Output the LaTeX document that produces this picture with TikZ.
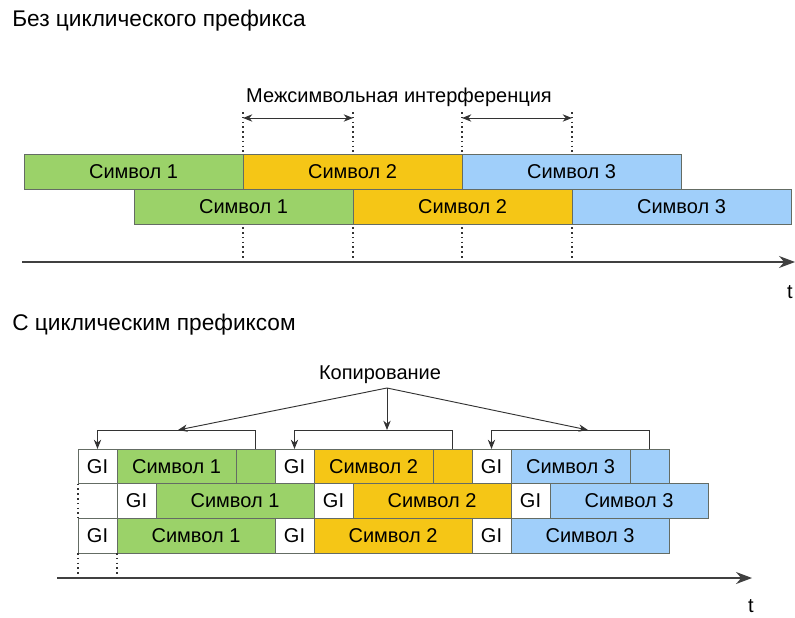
\documentclass[tikz,border=0pt]{standalone}
\usepackage{fontspec}
\setmainfont{Liberation Sans}
\usetikzlibrary{arrows.meta}

\definecolor{symgreen}{RGB}{155,210,105}
\definecolor{symyellow}{RGB}{245,198,22}
\definecolor{symblue}{RGB}{160,207,250}
\definecolor{edgegray}{RGB}{100,108,100}

\begin{document}
\begin{tikzpicture}[
    x=0.75pt, y=-0.75pt,
    every node/.style={font=\fontsize{15}{18}\selectfont},
    symbox/.style={rectangle, draw=edgegray, line width=0.6pt, anchor=north west,
                   inner sep=0pt, outer sep=0pt, minimum height=26pt},
    widebox/.style={symbox, minimum width=164.25pt, minimum height=26.25pt},
    gibox/.style={symbox, fill=white, minimum width=29.25pt},
    bodybox/.style={symbox, minimum width=89.25pt},
    fullbox/.style={symbox, minimum width=118.5pt},
    tailbox/.style={symbox, minimum width=29.25pt},
    heading/.style={anchor=base west, inner sep=0pt, font=\fontsize{17}{20}\selectfont},
    guide/.style={draw=black!80, line width=1.1pt, dash pattern=on 1.2pt off 2.4pt},
    arrow/.style={-{Stealth[length=7pt,width=5.5pt]}, draw=black!80, line width=0.7pt},
    twoway/.style={{Stealth[length=7pt,width=5.5pt]}-{Stealth[length=7pt,width=5.5pt]},
                   draw=black!80, line width=0.7pt},
    axis/.style={-{Stealth[length=12pt,width=9pt]}, draw=black!75, line width=0.9pt}
]
\useasboundingbox (0,0) rectangle (795,617);

% without cyclic prefix
\node[heading] (title1) at (12,27) {Без циклического префикса};
\node[anchor=base] (isi) at (399,102) {Межсимвольная интерференция};

\draw[guide] (243,112) -- (243,262);
\draw[guide] (353,112) -- (353,262);
\draw[guide] (462,112) -- (462,262);
\draw[guide] (572,112) -- (572,262);

\node[widebox, fill=symgreen] (u1) at (24,154) {Символ 1};
\node[widebox, fill=symyellow] (u2) at (u1.north east) {Символ 2};
\node[widebox, fill=symblue] (u3) at (u2.north east) {Символ 3};
\node[widebox, fill=symgreen] (l1) at (134,189) {Символ 1};
\node[widebox, fill=symyellow] (l2) at (l1.north east) {Символ 2};
\node[widebox, fill=symblue] (l3) at (l2.north east) {Символ 3};

\draw[twoway] (243,118) -- (353,118);
\draw[twoway] (462,118) -- (572,118);

\draw[axis] (22,262) -- (795,262);
\node (tup) at (790,292) {t};

% with cyclic prefix
\node[heading] (title2) at (12,330) {С циклическим префиксом};
\node[anchor=base] (copy) at (380,379) {Копирование};

\node[gibox] (ga1) at (78,449) {GI};
\node[bodybox, fill=symgreen] (ba1) at (ga1.north east) {Символ 1};
\node[tailbox, fill=symgreen] (ta1) at (ba1.north east) {};
\node[gibox] (ga2) at (ta1.north east) {GI};
\node[bodybox, fill=symyellow] (ba2) at (ga2.north east) {Символ 2};
\node[tailbox, fill=symyellow] (ta2) at (ba2.north east) {};
\node[gibox] (ga3) at (ta2.north east) {GI};
\node[bodybox, fill=symblue] (ba3) at (ga3.north east) {Символ 3};
\node[tailbox, fill=symblue] (ta3) at (ba3.north east) {};

\node[gibox] (gb1) at (ga1.south east) {GI};
\node[fullbox, fill=symgreen] (bb1) at (gb1.north east) {Символ 1};
\node[gibox] (gb2) at (bb1.north east) {GI};
\node[fullbox, fill=symyellow] (bb2) at (gb2.north east) {Символ 2};
\node[gibox] (gb3) at (bb2.north east) {GI};
\node[fullbox, fill=symblue] (bb3) at (gb3.north east) {Символ 3};

\node[gibox] (gc1) at (ga1.west |- gb1.south) {GI};
\node[fullbox, fill=symgreen] (bc1) at (gc1.north east) {Символ 1};
\node[gibox] (gc2) at (bc1.north east) {GI};
\node[fullbox, fill=symyellow] (bc2) at (gc2.north east) {Символ 2};
\node[gibox] (gc3) at (bc2.north east) {GI};
\node[fullbox, fill=symblue] (bc3) at (gc3.north east) {Символ 3};

\draw[guide] (ga1.south west) -- (gc1.north west);
\draw[guide] (gc1.south west) -- ++(0,25);
\draw[guide] (gc1.south east) -- ++(0,25);

\draw[axis] (57,578) -- (752,578);
\node (tdown) at (751,606) {t};

% copy brackets
\draw[arrow] (ta1.north) -- ++(0,-19) -| (ga1.north);
\draw[arrow] (ta2.north) -- ++(0,-19) -| (ga2.north);
\draw[arrow] (ta3.north) -- ++(0,-19) -| (ga3.north);

\coordinate (src) at (387,388);
\coordinate (hit1) at (178,430);
\coordinate (hit2) at (387,430);
\coordinate (hit3) at (588,430);
\draw[arrow] (src) -- (hit1);
\draw[arrow] (src) -- (hit2);
\draw[arrow] (src) -- (hit3);
\end{tikzpicture}
\end{document}
